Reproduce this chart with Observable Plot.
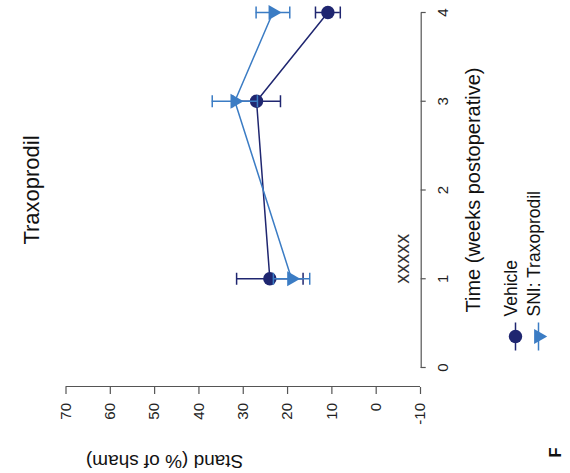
<!DOCTYPE html>
<html>
<head>
<meta charset="utf-8">
<script src="https://cdn.jsdelivr.net/npm/d3@7"></script>
<script src="https://cdn.jsdelivr.net/npm/@observablehq/plot@0.6"></script>
<style>
  html, body { margin: 0; padding: 0; background: #fff; overflow: hidden; }
  #wrap { position: absolute; left: 0; top: 0; width: 473px; height: 570px;
          transform-origin: 0 0; transform: translate(0px, 473px) rotate(-90deg); }
</style>
</head>
<body>
<div id="wrap"></div>
<script>
// ---- data ----
const weeks = [1, 3, 4];
const vehicleMean = [24.0, 27.0, 10.9];
const vehicleSem  = [7.5, 5.4, 2.8];
const traxMean    = [19.1, 31.9, 23.3];
const traxSem     = [4.1, 5.1, 3.8];
const seriesNames = ["Vehicle", "SNI: Traxoprodil"];
const seriesColors = ["#1f2670", "#3b7cc4"];
const xTicks = [0, 1, 2, 3, 4];
const yTicks = [-10, 0, 10, 20, 30, 40, 50, 60, 70];
const sigWeeks = [1];
const sigLabel = "xxxxx";
const sigLevel = -6;
const titleText = "Traxoprodil";
const xLabel = "Time (weeks postoperative)";
const yLabel = "Stand (% of sham)";
const panelLabel = "F";

const series = [
  {name: seriesNames[0], color: seriesColors[0], symbol: "circle", r: 6.7, rotate: 0,
   rows: weeks.map((w, i) => ({week: w, mean: vehicleMean[i], sem: vehicleSem[i]}))},
  {name: seriesNames[1], color: seriesColors[1], symbol: "triangle", r: 5.6, rotate: 180,
   rows: weeks.map((w, i) => ({week: w, mean: traxMean[i], sem: traxSem[i]}))}
];

const capSymbol = {
  draw(ctx, size) {
    const r = Math.sqrt(size / Math.PI);
    ctx.moveTo(-r, 0);
    ctx.lineTo(r, 0);
  }
};

const fmt = d => String(d);
const marks = [];
// axis lines
marks.push(Plot.ruleX([xTicks[0]], {y1: yTicks[0], y2: yTicks[yTicks.length - 1], dx: -19, stroke: "#555", strokeWidth: 1.2}));
marks.push(Plot.ruleY([yTicks[0]], {x1: xTicks[0], x2: xTicks[xTicks.length - 1], dy: 0.7, stroke: "#555", strokeWidth: 1.2}));
marks.push(Plot.axisY({ticks: yTicks, tickFormat: fmt, anchor: "left", dx: -19, tickSize: 7, tickPadding: 9.5, fontSize: 15,
  label: null, stroke: "#555", fill: "#222", strokeWidth: 1.2}));
marks.push(Plot.axisX({ticks: xTicks, tickFormat: fmt, anchor: "bottom", dy: 0.7, tickSize: 5, tickPadding: 11, fontSize: 15,
  label: null, stroke: "#555", fill: "#222", strokeWidth: 1.2}));

// series
series.forEach(s => {
  marks.push(Plot.line(s.rows, {x: "week", y: "mean", stroke: s.color, strokeWidth: 1.5}));
  marks.push(Plot.dot(s.rows, {x: "week", y: "mean", symbol: s.symbol, r: s.r, rotate: s.rotate, fill: s.color, stroke: "none"}));
  marks.push(Plot.ruleX(s.rows, {x: "week", y1: d => d.mean - d.sem, y2: d => d.mean + d.sem, stroke: s.color, strokeWidth: 1.5}));
  marks.push(Plot.dot(s.rows, {x: "week", y: d => d.mean - d.sem, symbol: capSymbol, r: 6, fill: "none", stroke: s.color, strokeWidth: 1.5}));
  marks.push(Plot.dot(s.rows, {x: "week", y: d => d.mean + d.sem, symbol: capSymbol, r: 6, fill: "none", stroke: s.color, strokeWidth: 1.5}));
});

// significance marks
marks.push(Plot.text(sigWeeks, {x: d => d, y: sigLevel, text: () => sigLabel, textAnchor: "start", dx: -5,
  fontSize: 20, fill: "#333", style: "letter-spacing:1.5px"}));

// titles
marks.push(Plot.text([titleText], {frameAnchor: "top", dy: -42.5, fontSize: 22, fill: "#111"}));
marks.push(Plot.text([xLabel], {frameAnchor: "bottom", dy: 59, fontSize: 20, fill: "#111"}));
marks.push(Plot.text([yLabel], {frameAnchor: "left", dx: -93.5, rotate: -90, fontSize: 19, fill: "#111"}));
marks.push(Plot.text([panelLabel], {frameAnchor: "bottom-left", dx: -90, dy: 140, fontSize: 16.5, fontWeight: "bold", textAnchor: "start", fill: "#111"}));

// legend
series.forEach((s, i) => {
  const dy = 95 + i * 23;
  marks.push(Plot.dot([s.name], {frameAnchor: "bottom-left", dx: 31, dy, r: 14, symbol: capSymbol, fill: "none", stroke: s.color, strokeWidth: 1.5}));
  marks.push(Plot.dot([s.name], {frameAnchor: "bottom-left", dx: 31, dy, r: s.r, symbol: s.symbol, rotate: s.rotate, fill: s.color, stroke: "none"}));
  marks.push(Plot.text([s.name], {frameAnchor: "bottom-left", dx: 51, dy: dy + 1, textAnchor: "start", fontSize: 17.5, fill: "#111"}));
});

const chart = Plot.plot({
  width: 473,
  height: 570,
  marginLeft: 105,
  marginRight: 13,
  marginTop: 65.5,
  marginBottom: 150,
  x: {domain: [xTicks[0], xTicks[xTicks.length - 1]], axis: null},
  y: {domain: [yTicks[0], yTicks[yTicks.length - 1]], axis: null},
  style: {fontFamily: "'Liberation Sans', Arial, Helvetica, sans-serif", background: "#fff", overflow: "visible"},
  marks
});
document.getElementById("wrap").appendChild(chart);
</script>
</body>
</html>
